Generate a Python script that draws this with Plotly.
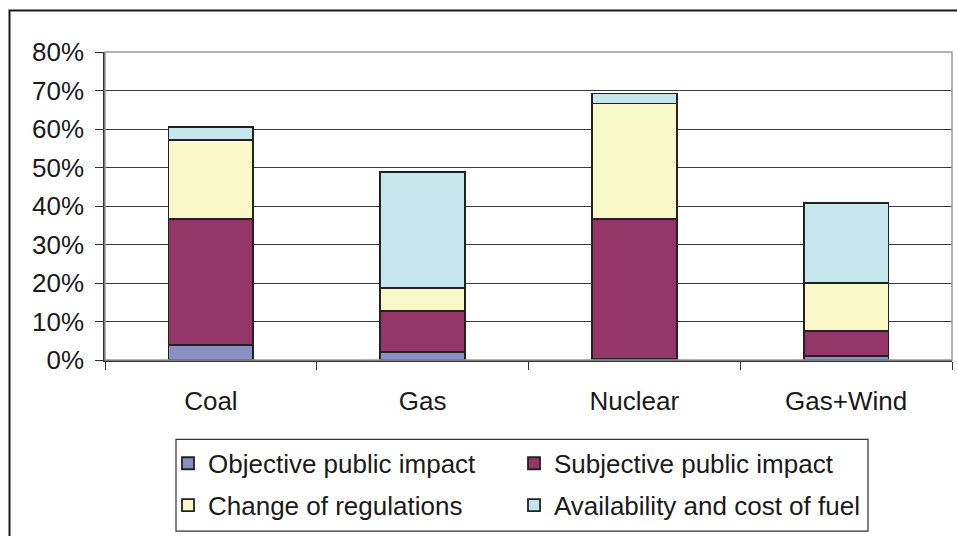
import plotly.graph_objects as go

categories = ["Coal", "Gas", "Nuclear", "Gas+Wind"]

# shares of each factor, stacked per technology
objective_impact = [0.040, 0.020, 0.003, 0.010]
subjective_impact = [0.327, 0.108, 0.363, 0.066]
regulation_change = [0.205, 0.058, 0.300, 0.124]
fuel_availability = [0.033, 0.303, 0.026, 0.207]

# (label, values, fill colour, legend row)
series = [
    ("Objective public impact", objective_impact, "#8A8FC6", "legend"),
    ("Subjective public impact", subjective_impact, "#943668", "legend"),
    ("Change of regulations", regulation_change, "#F8F8C8", "legend2"),
    ("Availability and cost of fuel", fuel_availability, "#C4E6EC", "legend2"),
]

FONT = "Liberation Sans, Arial, sans-serif"
FS = 26

fig = go.Figure()
for name, vals, color, leg in series:
    fig.add_trace(go.Bar(
        x=categories, y=vals, name=name, width=0.4, legend=leg,
        marker=dict(color=color, line=dict(color="#222222", width=1.8)),
    ))

W, H = 957, 536
L, R, T, B = 105, 5, 52, 175.5
pw, ph = W - L - R, H - T - B

def px_x(x):
    return (x - L) / pw

def px_y(y):
    return (H - B - y) / ph

legend_common = dict(
    orientation="h", traceorder="normal",
    xanchor="left", yanchor="top",
    entrywidth=301, entrywidthmode="pixels",
    borderwidth=0, bgcolor="rgba(0,0,0,0)",
    font=dict(family=FONT, size=FS, color="#1a1a1a"),
)

fig.update_layout(
    width=W, height=H,
    margin=dict(l=L, r=R, t=T, b=B, pad=0),
    barmode="stack",
    plot_bgcolor="white", paper_bgcolor="white",
    font=dict(family=FONT, size=FS, color="#1a1a1a"),
    showlegend=True,
    legend=dict(x=px_x(168), y=px_y(440.5), **legend_common),
    legend2=dict(x=px_x(168), y=px_y(482.5), **legend_common),
    xaxis=dict(
        showline=True, linecolor="#333333", linewidth=1.5,
        ticks="outside", ticklen=8, tickcolor="#333333",
        tickson="boundaries", showgrid=False,
        ticklabelstandoff=17,
    ),
    yaxis=dict(
        range=[0, 0.8], dtick=0.1, tickformat=".0%",
        showline=True, linecolor="#333333", linewidth=1.5,
        ticks="outside", ticklen=8, tickcolor="#333333",
        showgrid=True, gridcolor="#3a3a3a", gridwidth=1,
        zeroline=False, ticklabelstandoff=6,
    ),
    shapes=[
        # plot area frame
        dict(type="rect", xref="paper", yref="paper", x0=0, x1=1, y0=0, y1=1,
             line=dict(color="#999999", width=1.5), layer="above"),
        # legend frame
        dict(type="rect", xref="paper", yref="paper",
             x0=px_x(176), x1=px_x(868), y0=px_y(440), y1=px_y(532),
             line=dict(color="#333333", width=1.2), layer="above"),
        # chart area frame
        dict(type="rect", xref="paper", yref="paper",
             x0=px_x(9.5), x1=px_x(970), y0=px_y(10.5), y1=px_y(550),
             line=dict(color="#1a1a1a", width=2), layer="above"),
    ],
)

fig.write_html("out.html")
